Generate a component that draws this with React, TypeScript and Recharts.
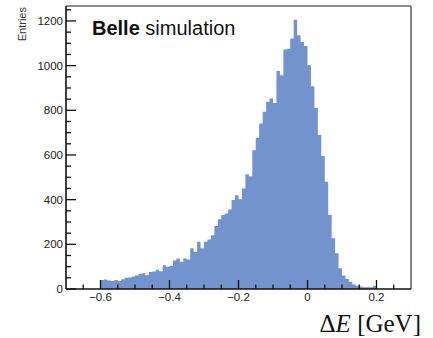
import React from "react";
import {
  ComposedChart,
  Area,
  XAxis,
  YAxis,
  ReferenceLine,
} from "recharts";

// histogram of ΔE, 80 bins of 0.01 GeV starting at -0.6
const BIN_START = -0.6;
const BIN_WIDTH = 0.01;
const COUNTS = [
  40, 42, 38, 36, 40, 36, 44, 50, 52, 56,
  60, 68, 70, 62, 76, 78, 86, 80, 106, 100,
  104, 128, 136, 122, 137, 132, 182, 167, 212, 182,
  212, 222, 241, 282, 312, 331, 338, 356, 398, 420,
  402, 450, 514, 505, 621, 677, 741, 793, 838, 853,
  833, 976, 957, 1072, 1076, 1121, 1206, 1136, 1106, 1088,
  1002, 908, 810, 689, 595, 480, 331, 227, 160, 93,
  60, 45, 33, 20, 14, 11, 8, 8, 8, 14,
];

const X_TICKS = [
  -0.65, -0.6, -0.55, -0.5, -0.45, -0.4, -0.35, -0.3, -0.25, -0.2, -0.15,
  -0.1, -0.05, 0, 0.05, 0.1, 0.15, 0.2, 0.25,
];
const X_LABELS = ["−0.6", "−0.4", "−0.2", "0", "0.2"];
const X_MAJOR = [-0.6, -0.4, -0.2, 0, 0.2];

const Y_TICKS = [
  0, 50, 100, 150, 200, 250, 300, 350, 400, 450, 500, 550, 600, 650, 700,
  750, 800, 850, 900, 950, 1000, 1050, 1100, 1150, 1200, 1250,
];
const Y_MAJOR = [0, 200, 400, 600, 800, 1000, 1200];

const data = COUNTS.map((c, i) => ({ x: BIN_START + i * BIN_WIDTH, count: c }));
data.push({
  x: BIN_START + COUNTS.length * BIN_WIDTH,
  count: COUNTS[COUNTS.length - 1],
});

const FONT = "'Liberation Sans', Arial, sans-serif";
const Y_MAX = 1267;

const YTick = (props: any) => {
  const { x, y, payload } = props;
  const major = Y_MAJOR.indexOf(payload.value) >= 0;
  return (
    <g>
      <line x1={x} x2={x + (major ? 10 : 5)} y1={y} y2={y} stroke="#111" strokeWidth={1.3} />
      {major && (
        <text
          x={x - 3}
          y={y}
          textAnchor="end"
          dominantBaseline="central"
          fontFamily={FONT}
          fontSize={11.5}
          fill="#222"
        >
          {payload.value}
        </text>
      )}
    </g>
  );
};

const XTick = (props: any) => {
  const { x, y, payload } = props;
  const idx = X_MAJOR.findIndex((m) => Math.abs(m - payload.value) < 1e-6);
  const major = idx >= 0;
  return (
    <g>
      <line x1={x} x2={x} y1={y} y2={y - (major ? 9 : 4.5)} stroke="#111" strokeWidth={1.3} />
      {major && (
        <text
          x={x}
          y={y + 8}
          textAnchor="middle"
          dominantBaseline="central"
          fontFamily={FONT}
          fontSize={11.5}
          fill="#222"
        >
          {X_LABELS[idx]}
        </text>
      )}
    </g>
  );
};

export default function App() {
  return (
    <div style={{ position: "absolute", left: 0, top: 0, width: 433, height: 338, background: "#fff" }}>
      <ComposedChart
        width={433}
        height={338}
        data={data}
        margin={{ top: 6, right: 22, bottom: 19, left: 0 }}
      >
        <XAxis
          dataKey="x"
          type="number"
          domain={[-0.7, 0.3]}
          ticks={X_TICKS}
          interval={0}
          tickSize={0}
          tickMargin={0}
          tickLine={false}
          tick={<XTick />}
          height={30}
          axisLine={{ stroke: "#111", strokeWidth: 1.6 }}
          allowDataOverflow
        />
        <YAxis
          type="number"
          domain={[0, Y_MAX]}
          ticks={Y_TICKS}
          interval={0}
          tickSize={0}
          tickMargin={0}
          tickLine={false}
          tick={<YTick />}
          width={66}
          axisLine={{ stroke: "#111", strokeWidth: 1.6 }}
          allowDataOverflow
        />
        <Area
          dataKey="count"
          type="stepAfter"
          fill="#7393cf"
          fillOpacity={1}
          stroke="none"
          baseValue={0}
          isAnimationActive={false}
        />
        <ReferenceLine y={Y_MAX} stroke="#666" strokeWidth={1.6} />
        <ReferenceLine x={0.3} stroke="#666" strokeWidth={1.6} />
      </ComposedChart>
      <div
        style={{
          position: "absolute",
          left: 92,
          top: 17,
          fontFamily: FONT,
          fontSize: 20,
          color: "#111",
          whiteSpace: "nowrap",
          lineHeight: "22px",
        }}
      >
        <b>Belle</b> simulation
      </div>
      <div
        style={{
          position: "absolute",
          left: 16,
          top: 7,
          width: 12,
          height: 36,
          fontFamily: FONT,
          fontSize: 11,
          color: "#333",
        }}
      >
        <span
          style={{
            position: "absolute",
            right: 0,
            top: 0,
            transformOrigin: "right top",
            transform: "translate(-12px, 0) rotate(-90deg)",
            whiteSpace: "nowrap",
            lineHeight: "12px",
          }}
        >
          Entries
        </span>
      </div>
      <div
        style={{
          position: "absolute",
          right: 12,
          top: 310,
          fontFamily: "'Liberation Serif', 'Times New Roman', serif",
          fontSize: 25,
          color: "#111",
          whiteSpace: "nowrap",
          lineHeight: "28px",
        }}
      >
        Δ<i>E</i> [GeV]
      </div>
    </div>
  );
}
